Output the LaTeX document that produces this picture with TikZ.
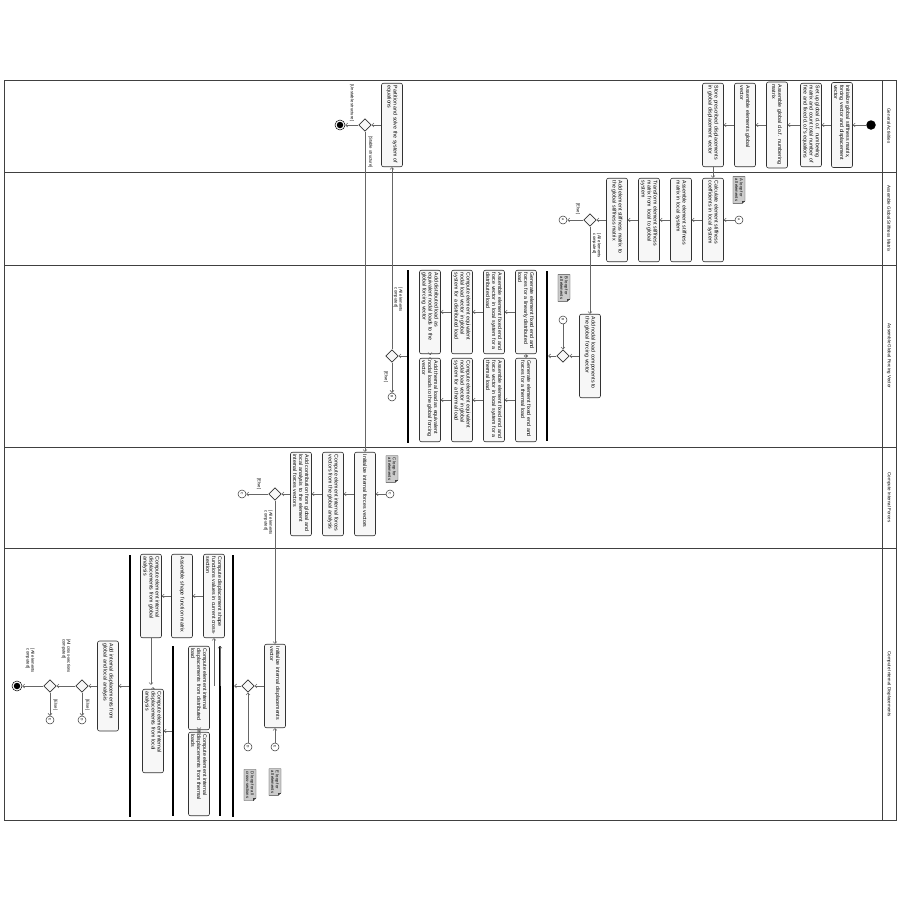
\documentclass[tikz,border=0pt]{standalone}
\usepackage{fontspec}
\setmainfont{Liberation Sans}
\usepackage{tikz}
\usetikzlibrary{arrows.meta,shapes.geometric,calc,backgrounds}
\newcommand{\actfont}{\fontsize{10.5}{12.2}\selectfont\hyphenpenalty=10000\exhyphenpenalty=10000}
\newcommand{\guardfont}{\fontsize{8.4}{9.6}\selectfont}
\newcommand{\lanefont}{\fontsize{9}{11}\selectfont}
\tikzset{
  actbox/.style={draw=black!80, fill=black!3, line width=1.2pt, rounded corners=4pt, align=left, text width=157pt, inner xsep=5pt, inner ysep=2pt, minimum height=42pt, font=\actfont},
  mergebox/.style={draw=black!80, fill=black!3, line width=1.2pt, diamond, minimum width=25pt, minimum height=25pt, inner sep=0pt},
  jumpcirc/.style={draw=black!80, circle, line width=1pt, minimum size=16pt, inner sep=0pt, font=\fontsize{6.5}{6.5}\selectfont},
  startdot/.style={circle, fill=black, minimum size=19pt, inner sep=0pt},
  enddot/.style={circle, draw=black, line width=1pt, minimum size=20pt, inner sep=0pt, path picture={\fill[black] (path picture bounding box.center) circle (6.5pt);}},
  forkbar/.style={fill=black, minimum height=4.5pt, inner sep=0pt},
  guardlbl/.style={font=\guardfont, align=left, inner sep=1pt},
  notetxt/.style={font=\guardfont, align=left, inner xsep=4pt, inner ysep=4pt},
  notedraw/.style={draw=black!75, fill=black!20, line width=0.8pt},
  flow/.style={draw=black!60, line width=1.1pt, -{Straight Barb[length=4pt,width=8pt]}},
  lanetitle/.style={font=\lanefont},
  laneline/.style={draw=black!75, line width=2pt}
}
\newcommand{\loopnote}[3]{%
  \node[notetxt] (#1) at (#2) {#3};
  \coordinate (#1-a) at ($(#1.north east)!5pt!(#1.north west)$);
  \coordinate (#1-b) at ($(#1.north east)!5pt!(#1.south east)$);
  \coordinate (#1-c) at ($(#1-a)+(#1-b)-(#1.north east)$);
  \begin{scope}[on background layer]
    \filldraw[notedraw] (#1.south west) -- (#1.north west) -- (#1-a) -- (#1-b) -- (#1.south east) -- cycle;
  \end{scope}
  \draw[notedraw, fill=none] (#1-a) -- (#1-c) -- (#1-b);
}

\begin{document}
\begin{tikzpicture}[rotate=-90, transform shape, x=2pt, y=2pt]
\useasboundingbox (0,0) rectangle (900,900);

% swimlanes
\draw[laneline] (80,4) rectangle (820,896);
\draw[laneline] (80,882) -- (820,882);
\foreach \lx in {172,265,447,548}
  \draw[laneline] (\lx,4) -- (\lx,896);
\node[lanetitle] (laneGen) at (126,889) {General Activities};
\node[lanetitle] (laneStiff) at (218.5,889) {Assemble Global Stiffness Matrix};
\node[lanetitle] (laneForce) at (356,889) {Assemble Global Forcing Vector};
\node[lanetitle] (laneIntF) at (497.5,889) {Compute Internal Forces};
\node[lanetitle] (laneIntD) at (684,889) {Compute Internal Displacements};

% general activities
\node[startdot] (start) at (125,871) {};
\node[actbox, text width=160pt] (initVec) at (125,842) {Initialize global stiffness matrix,\\forcing vector and displacement\\vector};
\node[actbox] (dofSetup) at (125,811) {Set up global d.o.f. numbering\\matrix and count total number of\\free and fixed d.o.f's equations};
\node[actbox, text width=162pt] (dofAssem) at (125,777) {Assemble global d.o.f. numbering\\matrix};
\node[actbox] (elemVec) at (125,745) {Assemble elements global\\vector};
\node[actbox] (storeDisp) at (125,713) {Store prescribed displacements\\in global displacement vector};
\node[actbox] (solveSys) at (125,392) {Partition and solve the system of\\equations};
\node[mergebox] (chkStable) at (125,365) {};
\node[enddot] (stopA) at (125,340) {};
\node[guardlbl] (unstable) at (103,352) {[Unstable structure]};
\node[guardlbl] (stable) at (152,370.5) {[Stable structure]};

% stiffness matrix
\node[jumpcirc] (cirA) at (220,739) {A};
\loopnote{noteA}{190,739}{A loop for\\all elements}
\node[actbox] (elemCoef) at (220,713) {Calculate element stiffness\\coefficients in local system};
\node[actbox] (elemKloc) at (220,681) {Assemble element stiffness\\matrix in local system};
\node[actbox] (elemKglb) at (220,649) {Transform element stiffness\\matrix from local to global\\system};
\node[actbox] (addK) at (220,617) {Add element stiffness matrix to\\the global stiffness matrix};
\node[mergebox] (chkK) at (220,590) {};
\node[jumpcirc] (cirAback) at (220,563) {A};
\node[guardlbl] (elseK) at (209,578) {[Else]};
\node[guardlbl] (doneK) at (246,596.5) {[All elements\\computed]};

% forcing vector
\node[actbox] (addNodal) at (356,590) {Add nodal load components to\\the global forcing vector};
\loopnote{noteB}{288,564}{B loop for\\all elements}
\node[jumpcirc] (cirB) at (320,563) {B};
\node[mergebox] (mrgB) at (356,563) {};
\node[forkbar, minimum width=340pt] (forkLoad) at (356,547) {};
\node[actbox] (loadG1) at (312,526) {Generate element fixed end and\\forces for a linearly distributed\\load};
\node[actbox] (loadG2) at (312,494) {Assemble element fixed end and\\force vector in local system for a\\distributed load};
\node[actbox] (loadG3) at (312,462) {Compute element equivalent\\nodal load vector in global\\system for a distributed load};
\node[actbox] (loadG4) at (312,430) {Add distributed load as\\equivalent nodal loads to the\\global forcing vector};
\node[actbox] (loadH1) at (400,526) {Generate element fixed end and\\forces for a thermal load};
\node[actbox] (loadH2) at (400,494) {Assemble element fixed end and\\force vector in local system for a\\thermal load};
\node[actbox] (loadH3) at (400,462) {Compute element equivalent\\nodal load vector in global\\system for a thermal load};
\node[actbox] (loadH4) at (400,430) {Add thermal load as equivalent\\nodal loads to the global forcing\\vector};
\node[forkbar, minimum width=346pt] (joinLoad) at (356,408) {};
\node[mergebox] (chkF) at (356,392) {};
\node[jumpcirc] (cirBback) at (397,392) {B};
\node[guardlbl] (elseF) at (377,386) {[Else]};
\node[guardlbl] (doneF) at (300,398) {[All elements\\computed]};

% internal forces
\node[actbox] (initF) at (494,365) {Initialize internal forces vectors};
\loopnote{noteC}{469,392}{C loop for\\all elements}
\node[jumpcirc] (cirC) at (494,390) {C};
\node[actbox] (elemF) at (494,333) {Compute element internal forces\\vectors from the global analysis};
\node[actbox] (addF) at (494,301) {Add contribution from global and\\local analysis to the element\\internal forces vectors};
\node[mergebox] (chkIF) at (494,275) {};
\node[jumpcirc] (cirCback) at (494,242) {C};
\node[guardlbl] (elseIF) at (484,259) {[Else]};
\node[guardlbl] (doneIF) at (523,268) {[All elements\\computed]};

% internal displacements
\node[actbox] (initD) at (686,275) {Initialize internal displacements\\vector};
\node[jumpcirc] (cirE) at (747,275) {E};
\loopnote{noteE}{782,275}{E loop for\\all elements}
\node[mergebox] (mrgD) at (686,248) {};
\node[jumpcirc] (cirD) at (747,248) {D};
\loopnote{noteD}{785,250}{D loop for all\\cross-sections}
\node[forkbar, minimum width=524pt] (forkDisp) at (686,233) {};
\node[actbox] (shapeVal) at (596,214) {Compute displacement shape\\functions values in current cross-\\section};
\node[actbox] (shapeMat) at (596,182) {Assemble shape function matrix};
\node[actbox] (dispGlb) at (596,151) {Compute element internal\\displacements from global\\analysis};
\node[forkbar, minimum width=340pt] (forkLoc) at (731,220) {};
\node[actbox] (dispDist) at (688,199) {Compute element internal\\displacements from distributed\\load};
\node[actbox] (dispTherm) at (774,199) {Compute element internal\\displacements from thermal\\loads};
\node[forkbar, minimum width=340pt] (joinLoc) at (731,173) {};
\node[actbox] (dispLoc) at (731,153) {Compute element internal\\displacements from local\\analysis};
\node[forkbar, minimum width=524pt] (joinDisp) at (686,130) {};
\node[actbox, text width=170pt] (addDisp) at (686,108) {Add internal displacements from\\global and local analysis};
\node[mergebox] (chkCS) at (686,82) {};
\node[jumpcirc] (cirDback) at (720,82) {D};
\node[guardlbl] (elseCS) at (705,87.5) {[Else]};
\node[guardlbl] (doneCS) at (656,66) {[All cross-sections\\computed]};
\node[mergebox] (chkEl) at (686,50) {};
\node[jumpcirc] (cirEback) at (720,50) {E};
\node[guardlbl] (elseEl) at (705,55.5) {[Else]};
\node[guardlbl] (doneEl) at (661,30) {[All elements\\computed]};
\node[enddot] (stopB) at (686,17) {};

% flows
\draw[flow] (start) -- (initVec);
\draw[flow] (initVec) -- (dofSetup);
\draw[flow] (dofSetup) -- (dofAssem);
\draw[flow] (dofAssem) -- (elemVec);
\draw[flow] (elemVec) -- (storeDisp);
\draw[flow] (storeDisp) -- (elemCoef);
\draw[flow] (cirA) -- (elemCoef);
\draw[flow] (elemCoef) -- (elemKloc);
\draw[flow] (elemKloc) -- (elemKglb);
\draw[flow] (elemKglb) -- (addK);
\draw[flow] (addK) -- (chkK);
\draw[flow] (chkK) -- (cirAback);
\draw[flow] (chkK) -- (addNodal);
\draw[flow] (addNodal) -- (mrgB);
\draw[flow] (cirB) -- (mrgB);
\draw[flow] (mrgB) -- (forkLoad);
\draw[flow] (forkLoad |- loadG1) -- (loadG1);
\draw[flow] (forkLoad |- loadH1) -- (loadH1);
\draw[flow] (loadG1) -- (loadG2);
\draw[flow] (loadG2) -- (loadG3);
\draw[flow] (loadG3) -- (loadG4);
\draw[flow] (loadH1) -- (loadH2);
\draw[flow] (loadH2) -- (loadH3);
\draw[flow] (loadH3) -- (loadH4);
\draw[flow, shorten >=2.2pt] (loadG4) -- (joinLoad |- loadG4);
\draw[flow, shorten >=2.2pt] (loadH4) -- (joinLoad |- loadH4);
\draw[flow] (joinLoad) -- (chkF);
\draw[flow] (chkF) -- (cirBback);
\draw[flow] (chkF) -- (solveSys);
\draw[flow] (solveSys) -- (chkStable);
\draw[flow] (chkStable) -- (stopA);
\draw[flow] (chkStable) -- (initF);
\draw[flow] (cirC) -- (initF);
\draw[flow] (initF) -- (elemF);
\draw[flow] (elemF) -- (addF);
\draw[flow] (addF) -- (chkIF);
\draw[flow] (chkIF) -- (cirCback);
\draw[flow] (chkIF) -- (initD);
\draw[flow] (cirE) -- (initD);
\draw[flow] (initD) -- (mrgD);
\draw[flow] (cirD) -- (mrgD);
\draw[flow] (mrgD) -- (forkDisp);
\draw[flow] (forkDisp |- shapeVal) -- (shapeVal);
\draw[flow] (shapeVal) -- (shapeMat);
\draw[flow] (shapeMat) -- (dispGlb);
\draw[flow, shorten >=2.2pt] (dispGlb) -- (joinDisp |- dispGlb);
\draw[flow] (forkDisp |- forkLoc) -- (forkLoc);
\draw[flow] (forkLoc |- dispDist) -- (dispDist);
\draw[flow] (forkLoc |- dispTherm) -- (dispTherm);
\draw[flow, shorten >=2.2pt] (dispDist) -- (joinLoc |- dispDist);
\draw[flow, shorten >=2.2pt] (dispTherm) -- (joinLoc |- dispTherm);
\draw[flow] (joinLoc) -- (dispLoc);
\draw[flow, shorten >=2.2pt] (dispLoc) -- (joinDisp |- dispLoc);
\draw[flow] (joinDisp) -- (addDisp);
\draw[flow] (addDisp) -- (chkCS);
\draw[flow] (chkCS) -- (cirDback);
\draw[flow] (chkCS) -- (chkEl);
\draw[flow] (chkEl) -- (cirEback);
\draw[flow] (chkEl) -- (stopB);
\end{tikzpicture}
\end{document}
